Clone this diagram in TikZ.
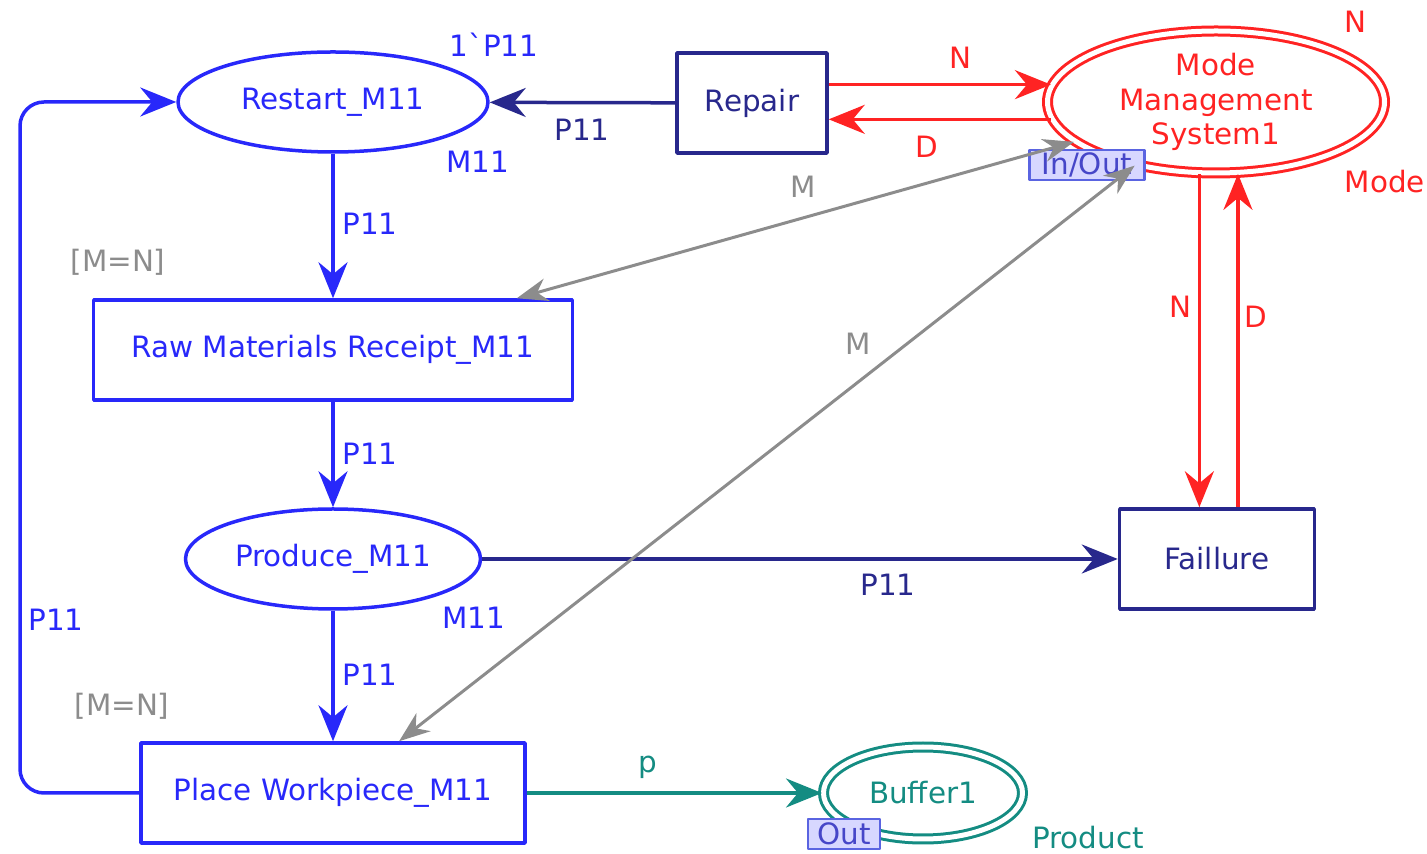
\documentclass[tikz,border=0pt]{standalone}
\usepackage{fontspec}
\setmainfont{DejaVu Sans}
\usepackage{tikz}
\usetikzlibrary{positioning,shapes.geometric,arrows.meta}
\definecolor{cpnblue}{RGB}{40,40,250}
\definecolor{cpnnavy}{RGB}{40,40,140}
\definecolor{cpnred}{RGB}{255,35,35}
\definecolor{cpngray}{RGB}{140,140,140}
\definecolor{cpnteal}{RGB}{20,140,130}
\definecolor{tagfill}{RGB}{215,215,255}
\definecolor{tagdraw}{RGB}{90,100,225}
\definecolor{tagtext}{RGB}{70,70,200}

\begin{document}
\begin{tikzpicture}[>={Stealth[length=36bp,width=29bp,inset=12bp]},line join=bevel,
  font=\fontsize{29.5}{35}\selectfont,
  graytip/.tip={Stealth[length=31bp,width=23bp,inset=10bp]},
  place/.style={ellipse,draw=cpnblue,line width=3.5bp,text=cpnblue,inner sep=0pt},
  trans/.style={rectangle,line width=3.5bp,minimum height=100bp,inner sep=0pt},
  fusion/.style={ellipse,double=white,double distance=5bp,line width=3bp,inner sep=0pt},
  porttag/.style={rectangle,draw=tagdraw,fill=tagfill,text=tagtext,line width=2.5bp,inner sep=0pt,minimum height=30bp},
  arcblue/.style={cpnblue,line width=3.5bp,->},
  arcnavy/.style={cpnnavy,line width=3.5bp,->},
  arcred/.style={cpnred,line width=3.5bp,->},
  arcteal/.style={cpnteal,line width=3.5bp,->},
  arcgray/.style={cpngray,line width=3bp,graytip-graytip},
  ]
\useasboundingbox (0bp,0bp) rectangle (1427bp,854bp);
%%
\node (node_restart) at (333bp,752bp) [place,minimum width=310bp,minimum height=100bp] {Restart\_M11};
  \node (node_repair) at (752bp,751bp) [trans,draw=cpnnavy,text=cpnnavy,minimum width=150bp] {Repair};
  \node (node_mode) at (1216bp,752bp) [fusion,draw=cpnred,text=cpnred,minimum width=337bp,minimum height=142bp,align=center] {Mode\\Management\\System1};
  \node (node_iotag) at (1087bp,689bp) [porttag,minimum width=115bp] {In/Out};
  \node (node_raw) at (333bp,504bp) [trans,draw=cpnblue,text=cpnblue,minimum width=479bp] {Raw Materials Receipt\_M11};
  \node (node_produce) at (333bp,295bp) [place,minimum width=295bp,minimum height=100bp] {Produce\_M11};
  \node (node_failure) at (1217bp,295bp) [trans,draw=cpnnavy,text=cpnnavy,minimum width=195bp] {Faillure};
  \node (node_place) at (333bp,61bp) [trans,draw=cpnblue,text=cpnblue,minimum width=384bp] {Place Workpiece\_M11};
  \node (node_buffer) at (923bp,61bp) [fusion,draw=cpnteal,text=cpnteal,minimum width=199bp,minimum height=92bp] {Buffer1};
  \node (node_outtag) at (844bp,20bp) [porttag,minimum width=72bp] {Out};
  \coordinate (loop_corner) at (20bp,400bp);
%
  \node (lbl_init) at (494bp,809bp) [text=cpnblue] {1\textasciigrave P11};
  \node (lbl_restart) at (478bp,692bp) [text=cpnblue] {M11};
  \node (lbl_produce) at (474bp,236bp) [text=cpnblue] {M11};
  \node (lbl_modeset) at (1385bp,672bp) [text=cpnred] {Mode};
  \node (lbl_modeinit) at (1355bp,832bp) [text=cpnred] {N};
  \node (lbl_buffer) at (1088bp,16bp) [text=cpnteal] {Product};
  \node (lbl_guard1) at (118bp,592bp) [text=cpngray] {[M=N]};
  \node (lbl_guard2) at (122bp,148bp) [text=cpngray] {[M=N]};
%
  \draw [arcnavy] (node_repair) -- (node_restart);
  \node at (582bp,724bp) [text=cpnnavy] {P11};
  \draw [arcred] (node_repair.east |- node_mode.174) -- (node_mode.174);
  \node at (960bp,796bp) [text=cpnred] {N};
  \draw [arcred] (node_mode.186) -- (node_repair.east |- node_mode.186);
  \node at (927bp,707bp) [text=cpnred] {D};
  \draw [arcblue] (node_restart) -- (node_raw);
  \node at (370bp,630bp) [text=cpnblue] {P11};
  \draw [arcblue] (node_raw) -- (node_produce);
  \node at (370bp,400bp) [text=cpnblue] {P11};
  \draw [arcblue] (node_produce) -- (node_place);
  \node at (370bp,179bp) [text=cpnblue] {P11};
  \draw [arcnavy] (node_produce) -- (node_failure);
  \node at (888bp,269bp) [text=cpnnavy] {P11};
  \draw [arcblue,rounded corners=24bp] (node_place.west) -| (loop_corner) |- (node_restart.west);
  \node at (56bp,234bp) [text=cpnblue] {P11};
  \draw [arcteal] (node_place) -- (node_buffer);
  \node at (648bp,87bp) [text=cpnteal] {p};
  \draw [arcred] (node_mode.257) -- (node_mode.257 |- node_failure.north);
  \node at (1180bp,547bp) [text=cpnred] {N};
  \draw [arcred] (node_mode.287 |- node_failure.north) -- (node_mode.287);
  \node at (1256bp,537bp) [text=cpnred] {D};
  \draw [arcgray] (node_raw) -- (node_mode);
  \node at (803bp,667bp) [text=cpngray] {M};
  \draw [arcgray] (node_place) -- (node_mode);
  \node at (858bp,510bp) [text=cpngray] {M};
%
\end{tikzpicture}
\end{document}
